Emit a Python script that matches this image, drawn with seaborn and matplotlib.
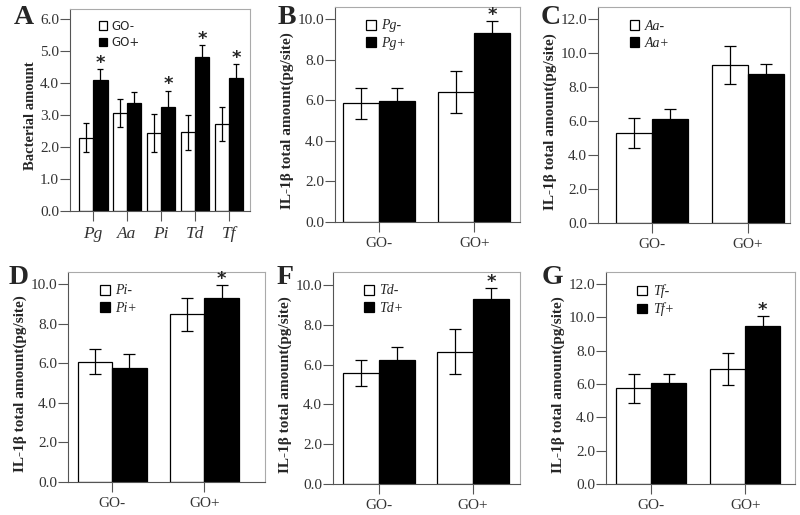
import pandas as pd
import seaborn as sns
from matplotlib import pyplot as plt

# panel A: bacterial amount by species, GO- vs GO+
a_species = ["Pg", "Aa", "Pi", "Td", "Tf"]
a_go_neg = [2.29, 3.05, 2.43, 2.46, 2.72]
a_go_neg_err = [0.46, 0.44, 0.60, 0.54, 0.52]
a_go_pos = [4.09, 3.36, 3.24, 4.82, 4.17]
a_go_pos_err = [0.35, 0.37, 0.52, 0.37, 0.42]
a_star = [True, False, True, True, True]

# panels B-G: IL-1b total amount, GO- / GO+ split by species absent / present
go_groups = ["GO-", "GO+"]
b_neg = [5.85, 6.42]
b_neg_err = [0.75, 1.04]
b_pos = [5.98, 9.34]
b_pos_err = [0.61, 0.58]

c_neg = [5.30, 9.29]
c_neg_err = [0.90, 1.14]
c_pos = [6.13, 8.74]
c_pos_err = [0.55, 0.59]

d_neg = [6.07, 8.47]
d_neg_err = [0.64, 0.84]
d_pos = [5.73, 9.27]
d_pos_err = [0.71, 0.68]

f_neg = [5.56, 6.65]
f_neg_err = [0.65, 1.14]
f_pos = [6.23, 9.28]
f_pos_err = [0.67, 0.55]

g_neg = [5.75, 6.91]
g_neg_err = [0.86, 0.96]
g_pos = [6.05, 9.48]
g_pos_err = [0.58, 0.60]

il1b_star = [False, True]
ylabel_il1b = "IL-1β total amount(pg/site)"

sns.set_style("ticks")
plt.rcParams["font.family"] = ["Liberation Serif", "DejaVu Serif"]

SERIF = ["Liberation Serif", "DejaVu Serif"]


def plot_panel(ax, groups, neg, pos, neg_err, pos_err, stars, hue_labels,
               ylabel, ymax, ytop, xlim, width, capsize, letter,
               italic_groups=False, legend_sans=False, ylabel_size=11):
    """Grouped white/black bar panel with error bars and significance stars"""
    pdf = pd.DataFrame({
        "group": list(groups) * 2,
        "value": list(neg) + list(pos),
        "status": [hue_labels[0]] * len(groups) + [hue_labels[1]] * len(groups),
    })
    sns.barplot(x="group", y="value", hue="status", data=pdf, ax=ax,
                palette=["white", "black"], edgecolor="black", linewidth=0.9,
                width=width, errorbar=None, saturation=1)

    for container, errs, show_star in zip(ax.containers, [neg_err, pos_err],
                                          [[False] * len(groups), stars]):
        for bar, err, star in zip(container, errs, show_star):
            x = bar.get_x() + bar.get_width() / 2
            y = bar.get_height()
            ax.errorbar(x, y, yerr=err, fmt="none", ecolor="black",
                        elinewidth=0.9, capsize=capsize, capthick=0.9)
            if star:
                ax.annotate("*", (x, y + err), xytext=(0, -2),
                            textcoords="offset points", ha="center",
                            va="bottom", fontsize=13, fontweight="bold",
                            family="DejaVu Sans")

    ax.set_ylim(0, ytop)
    ax.set_xlim(*xlim)
    ax.set_yticks([v for v in range(0, ymax + 1, 2 if ymax > 6 else 1)])
    ax.set_yticklabels([f"{v:.1f}" for v in ax.get_yticks()])
    ax.set_xlabel("")
    ax.set_ylabel(ylabel, fontsize=ylabel_size, fontweight="bold", labelpad=2)
    ax.yaxis.label.set_y(0.47)
    ax.tick_params(axis="both", colors="#555555", labelcolor="#333333",
                   length=7, width=0.8, labelsize=11)
    ax.tick_params(axis="x", pad=4)
    ax.tick_params(axis="y", pad=1)
    if italic_groups:
        for lbl in ax.get_xticklabels():
            lbl.set_fontstyle("italic")
            lbl.set_fontsize(12.5)

    for side in ["left", "bottom"]:
        ax.spines[side].set_color("#555555")
        ax.spines[side].set_linewidth(0.8)
    for side in ["top", "right"]:
        ax.spines[side].set_color("#aaaaaa")
        ax.spines[side].set_linewidth(0.8)

    prop = {"family": "DejaVu Sans", "size": 8.5} if legend_sans else \
        {"family": SERIF, "size": 10, "style": "italic"}
    ax.legend(loc="upper left", bbox_to_anchor=(0.1, 1.0), frameon=False,
              handlelength=0.7, handleheight=0.7, handletextpad=0.4,
              labelspacing=0.3, prop=prop)

    ax.figure.text(*letter[1:], letter[0], fontsize=20, fontweight="bold",
                   ha="left", va="center", family=SERIF)


f = plt.figure(figsize=(8, 5.15), dpi=100)
W, H = 800.0, 515.0


def add_axes(left, right, top, bottom):
    return f.add_axes([left / W, 1 - bottom / H, (right - left) / W, (bottom - top) / H])


ax = add_axes(70, 250, 9, 211)
plot_panel(ax, a_species, a_go_neg, a_go_pos, a_go_neg_err, a_go_pos_err, a_star,
           ["GO-", "GO+"], "Bacterial amount", 6, 6.31, (-0.68, 4.62), 0.85, 2.5,
           ("A", 14 / W, 1 - 18 / H), italic_groups=True, legend_sans=True,
           ylabel_size=10.5)

ax = add_axes(335, 520, 7, 222)
plot_panel(ax, go_groups, b_neg, b_pos, b_neg_err, b_pos_err, il1b_star,
           ["Pg-", "Pg+"], ylabel_il1b, 10, 10.6, (-0.46, 1.48), 0.76, 4.5,
           ("B", 278 / W, 1 - 18 / H))

ax = add_axes(598, 790, 7, 223)
plot_panel(ax, go_groups, c_neg, c_pos, c_neg_err, c_pos_err, [False, False],
           ["Aa-", "Aa+"], ylabel_il1b, 12, 12.7, (-0.56, 1.44), 0.75, 4.5,
           ("C", 541 / W, 1 - 18 / H))

ax = add_axes(68, 265, 272, 482)
plot_panel(ax, go_groups, d_neg, d_pos, d_neg_err, d_pos_err, il1b_star,
           ["Pi-", "Pi+"], ylabel_il1b, 10, 10.6, (-0.48, 1.66), 0.75, 4.5,
           ("D", 9 / W, 1 - 277 / H))

ax = add_axes(333, 520, 272, 484)
plot_panel(ax, go_groups, f_neg, f_pos, f_neg_err, f_pos_err, il1b_star,
           ["Td-", "Td+"], ylabel_il1b, 10, 10.65, (-0.49, 1.5), 0.76, 4.5,
           ("F", 277 / W, 1 - 278 / H))

ax = add_axes(606, 795, 272, 484)
plot_panel(ax, go_groups, g_neg, g_pos, g_neg_err, g_pos_err, il1b_star,
           ["Tf-", "Tf+"], ylabel_il1b, 12, 12.72, (-0.48, 1.53), 0.75, 4.5,
           ("G", 542 / W, 1 - 277 / H))

f.savefig("out.png", dpi=100)
